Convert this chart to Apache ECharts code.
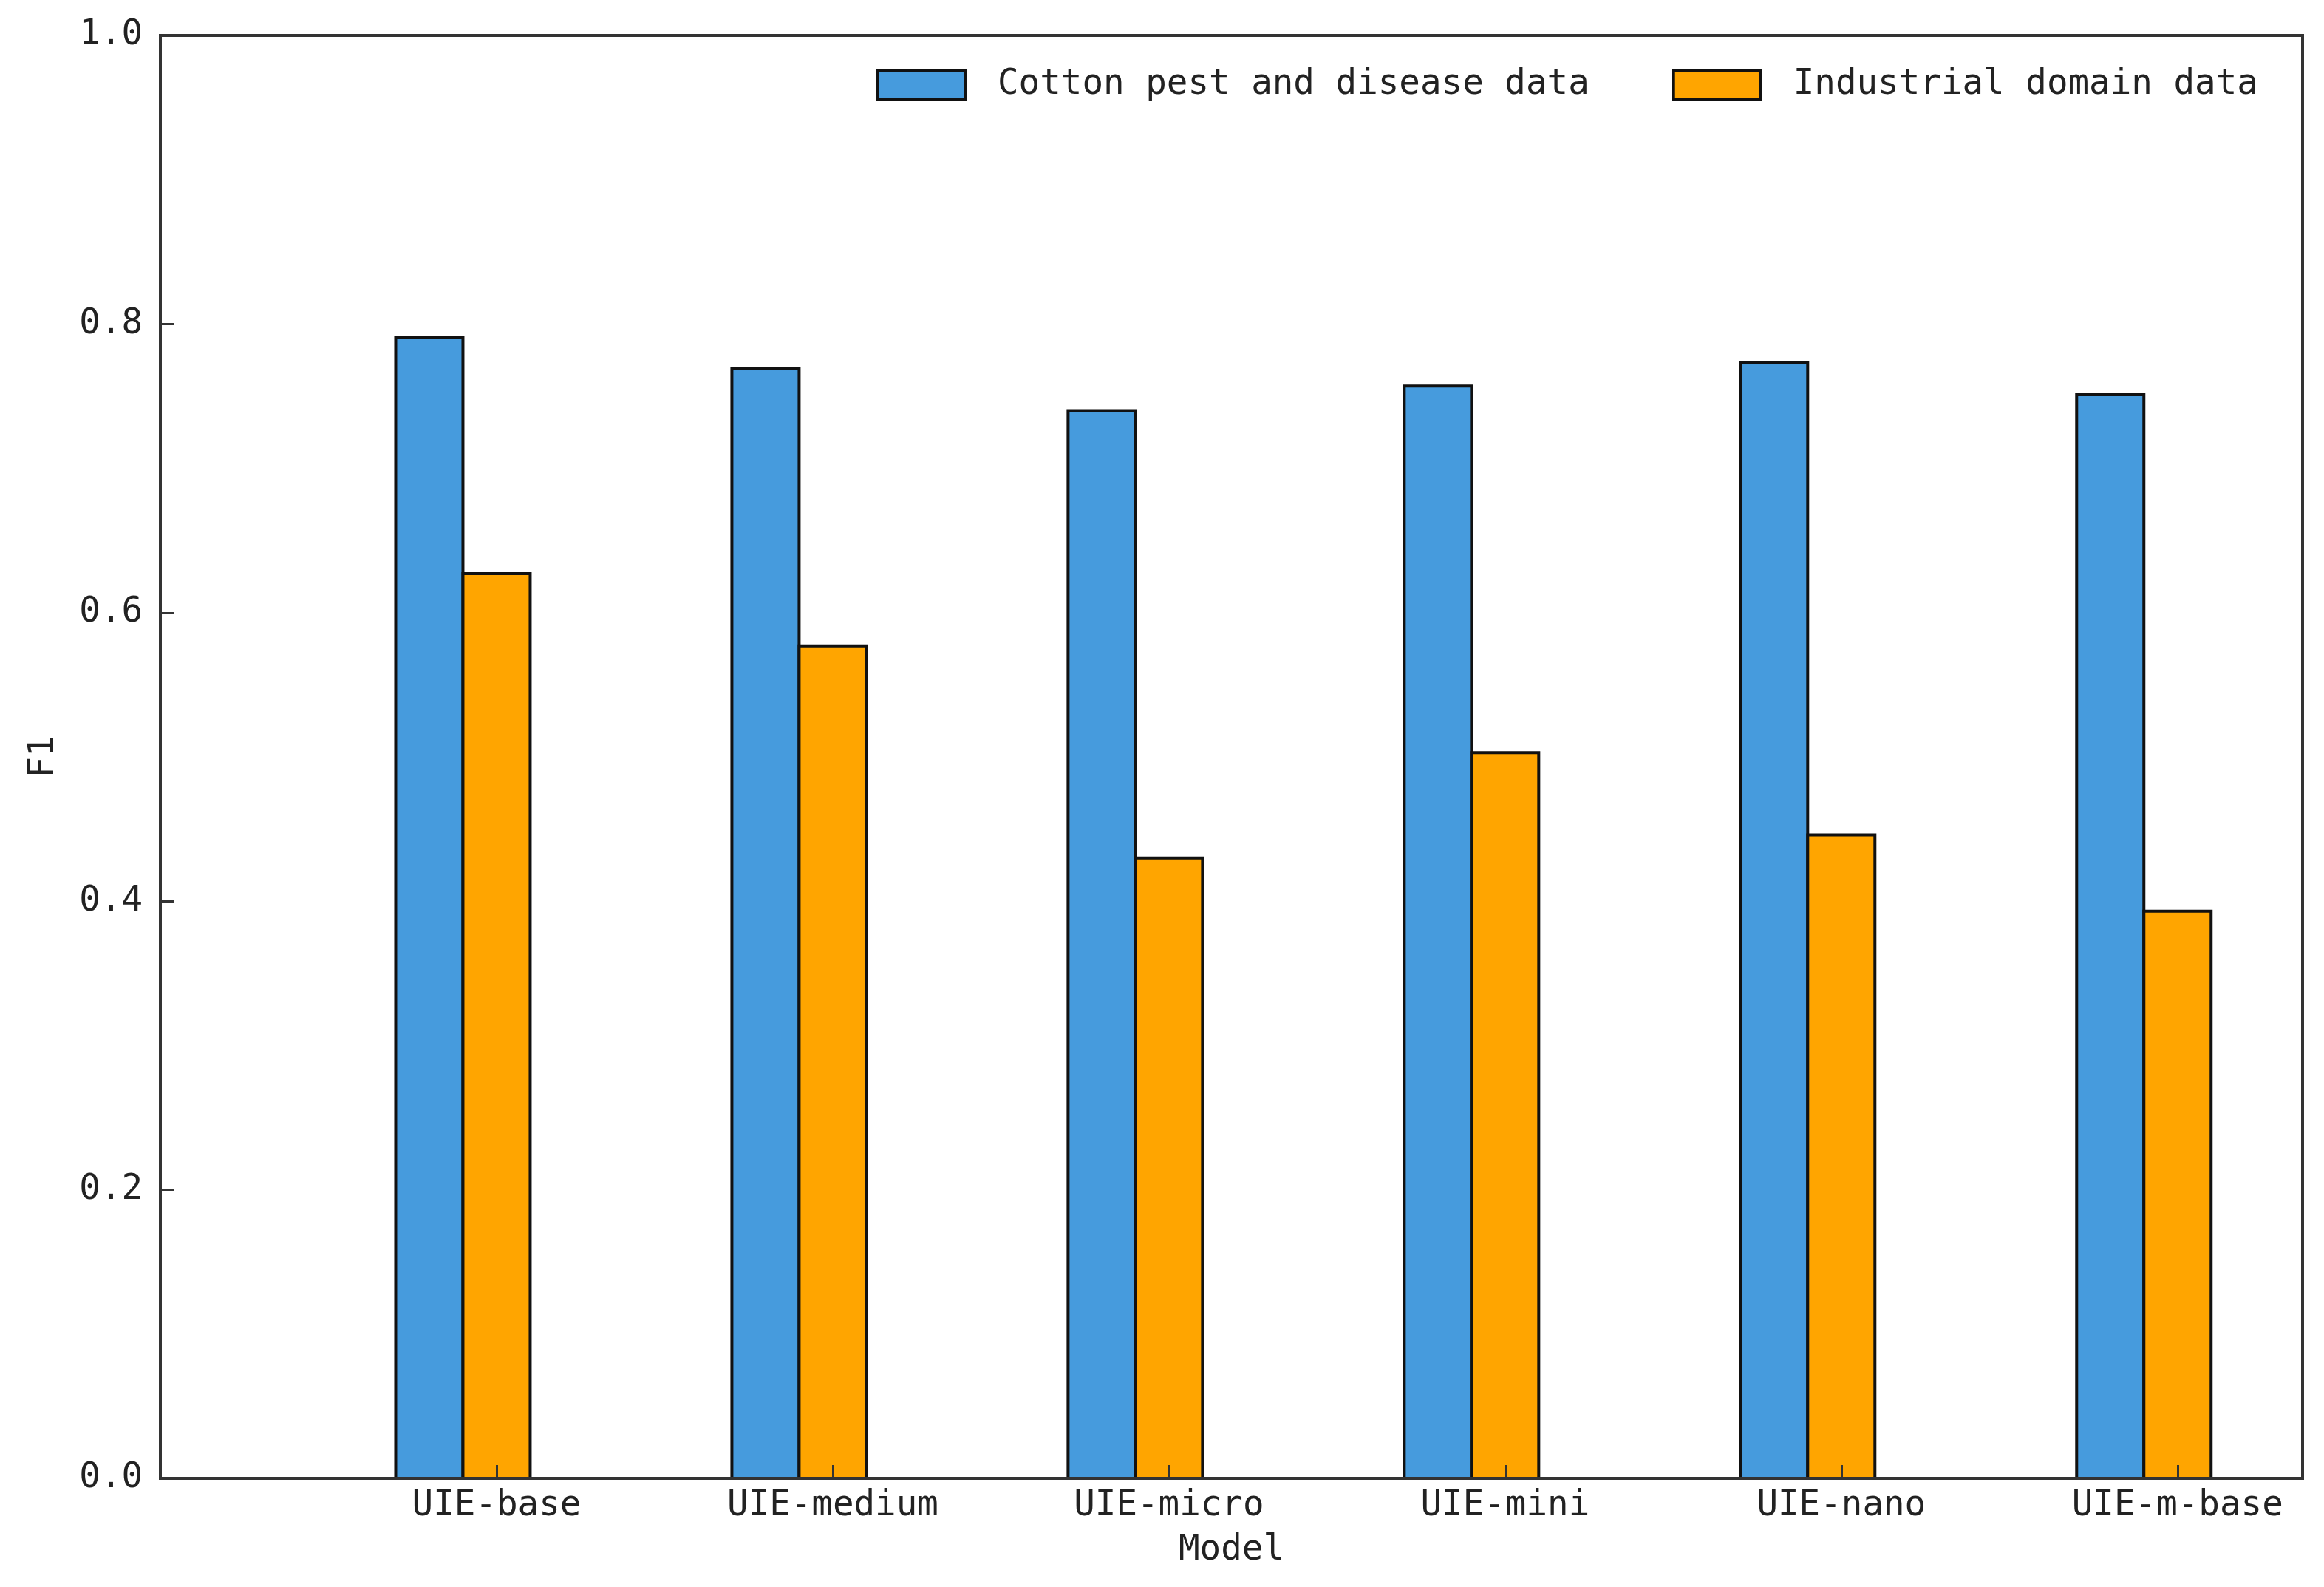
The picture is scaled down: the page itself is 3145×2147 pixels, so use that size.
<!DOCTYPE html>
<html>
<head>
<meta charset="utf-8">
<script src="https://cdn.jsdelivr.net/npm/echarts@6/dist/echarts.min.js"></script>
<style>
html,body{margin:0;padding:0;background:#fff;}
#chart{width:3145px;height:2147px;}
</style>
</head>
<body>
<div id="chart"></div>
<script>
// ---- data ----
const categories = ['UIE-base', 'UIE-medium', 'UIE-micro', 'UIE-mini', 'UIE-nano', 'UIE-m-base'];
const seriesNames = ['Cotton pest and disease data', 'Industrial domain data'];
const cottonF1 = [0.791, 0.769, 0.740, 0.757, 0.773, 0.751];
const industrialF1 = [0.627, 0.577, 0.430, 0.503, 0.446, 0.393];
const yTicks = [0.0, 0.2, 0.4, 0.6, 0.8, 1.0];

// ---- style ----
const FONT = 'DejaVu Sans Mono';
const FS = 47.5;
const TXT = '#222';
const AX = '#333';
const BAR_W = 0.2;           // bar width in x-axis units
const BLUE = '#469BDD';
const ORANGE = '#FFA500';

const chart = echarts.init(document.getElementById('chart'), null, {renderer: 'canvas'});

function barRender(color) {
  return function (params, api) {
    const x = api.value(0), y = api.value(1);
    const p0 = api.coord([x - BAR_W / 2, 0]);
    const p1 = api.coord([x + BAR_W / 2, y]);
    return {
      type: 'rect',
      shape: {x: p0[0], y: p1[1], width: p1[0] - p0[0], height: p0[1] - p1[1]},
      style: {fill: color, stroke: '#111', lineWidth: 4}
    };
  };
}

const option = {
  backgroundColor: '#fff',
  animation: false,
  textStyle: {fontFamily: FONT},
  grid: {
    left: 217, right: 29, top: 48, bottom: 147,
    show: true, borderColor: AX, borderWidth: 4, backgroundColor: 'transparent'
  },
  legend: {
    left: 1181, top: 86,
    icon: 'rect',
    itemWidth: 118, itemHeight: 38,
    itemGap: 112,
    itemStyle: {borderColor: '#111', borderWidth: 4},
    textStyle: {fontFamily: FONT, fontSize: FS, color: TXT, padding: [0, 0, 0, 39], lineHeight: 40},
    data: seriesNames
  },
  xAxis: {
    type: 'value',
    min: -1, max: 5.372, interval: 1,
    z: 10,
    name: 'Model', nameLocation: 'middle', nameGap: 74,
    nameTextStyle: {fontFamily: FONT, fontSize: FS, color: TXT},
    axisLine: {show: true, onZero: false, lineStyle: {color: AX, width: 4}},
    axisTick: {show: true, inside: true, length: 18, lineStyle: {color: AX, width: 3}},
    splitLine: {show: false},
    axisLabel: {
      fontFamily: FONT, fontSize: FS, color: TXT, margin: 14,
      formatter: function (v) {
        const i = Math.round(v);
        return (Math.abs(v - i) < 1e-6 && i >= 0 && i < categories.length) ? categories[i] : '';
      }
    }
  },
  yAxis: {
    type: 'value',
    min: 0, max: 1, interval: 0.2,
    z: 10,
    name: 'F1', nameLocation: 'middle', nameGap: 133,
    nameTextStyle: {fontFamily: FONT, fontSize: FS, color: TXT},
    axisLine: {show: true, onZero: false, lineStyle: {color: AX, width: 4}},
    axisTick: {show: true, inside: true, length: 18, lineStyle: {color: AX, width: 3}},
    splitLine: {show: false},
    axisLabel: {
      fontFamily: FONT, fontSize: FS, color: TXT, margin: 24,
      formatter: function (v) { return v.toFixed(1); }
    }
  },
  series: [
    {
      name: seriesNames[0], type: 'custom',
      itemStyle: {color: BLUE},
      encode: {x: 0, y: 1},
      renderItem: barRender(BLUE),
      data: categories.map((c, i) => [i - BAR_W, cottonF1[i]])
    },
    {
      name: seriesNames[1], type: 'custom',
      itemStyle: {color: ORANGE},
      encode: {x: 0, y: 1},
      renderItem: barRender(ORANGE),
      data: categories.map((c, i) => [i, industrialF1[i]])
    }
  ]
};
chart.setOption(option);
</script>
</body>
</html>
